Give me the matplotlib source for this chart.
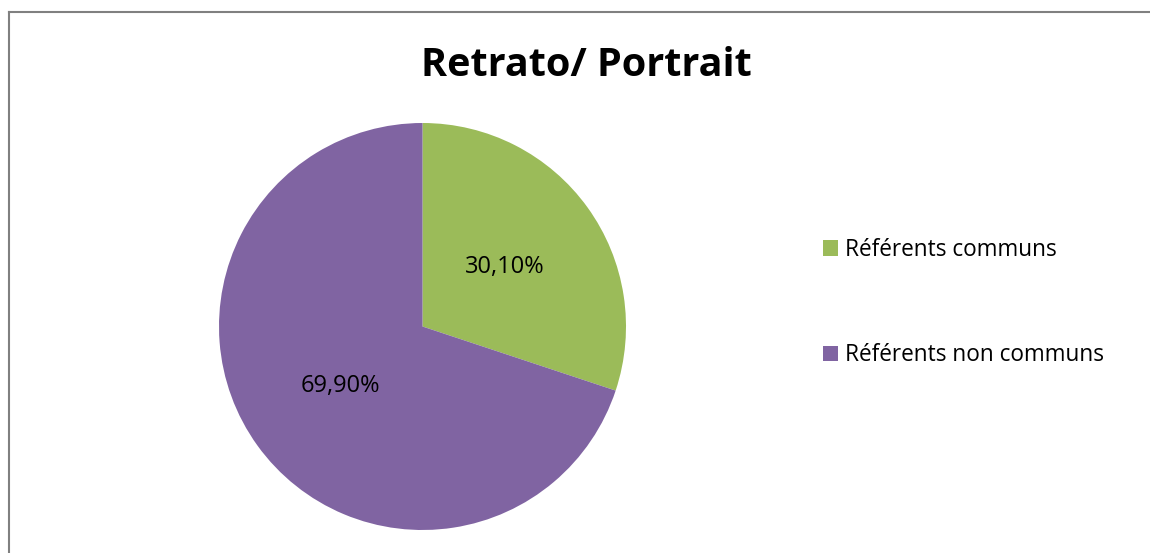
import matplotlib
matplotlib.use("Agg")
import matplotlib.pyplot as plt
from matplotlib.patches import Patch
from matplotlib.lines import Line2D

title = "Retrato/ Portrait"
categories = ["Référents communs", "Référents non communs"]
values = [30.10, 69.90]
colors = ["#9BBB59", "#8064A2"]

plt.rcParams['font.family'] = ['Open Sans', 'DejaVu Sans']

W, H = 1150, 553
fig = plt.figure(figsize=(W/100, H/100), dpi=100)
fig.patch.set_facecolor("white")

# frame lines (top and left only visible)
fig.add_artist(Line2D([8.5/W, 1], [1 - 11.5/H, 1 - 11.5/H], color="#808080", lw=1.5,
                      transform=fig.transFigure))
fig.add_artist(Line2D([8.5/W, 8.5/W], [0, 1 - 11.5/H], color="#808080", lw=1.5,
                      transform=fig.transFigure))

ax = fig.add_axes([219/W, 23/H, 407/W, 407/H])
wedges, texts, autotexts = ax.pie(
    values, colors=colors, startangle=90, counterclock=False, radius=1,
    autopct=lambda p: f"{p:.2f}%".replace(".", ","), pctdistance=0.5,
    textprops=dict(fontsize=17, color="black"),
    wedgeprops=dict(linewidth=0))
ax.set_xlim(-1, 1)
ax.set_ylim(-1, 1)
ax.set_aspect("equal")
ax.axis("off")

fig.text(586/W, 1 - 65/H, title, ha="center", va="center", fontsize=28.5, fontweight="bold")

handles = [Patch(facecolor=c, edgecolor="none") for c in colors]
leg = fig.legend(handles, categories, loc="center left",
                 bbox_to_anchor=(816/W, 1 - 302.5/H), frameon=False, fontsize=16.3,
                 labelspacing=3.6, handlelength=0.68, handleheight=0.68,
                 handletextpad=0.32, borderpad=0.3, borderaxespad=0)

fig.savefig("out.png", dpi=100, facecolor="white")
